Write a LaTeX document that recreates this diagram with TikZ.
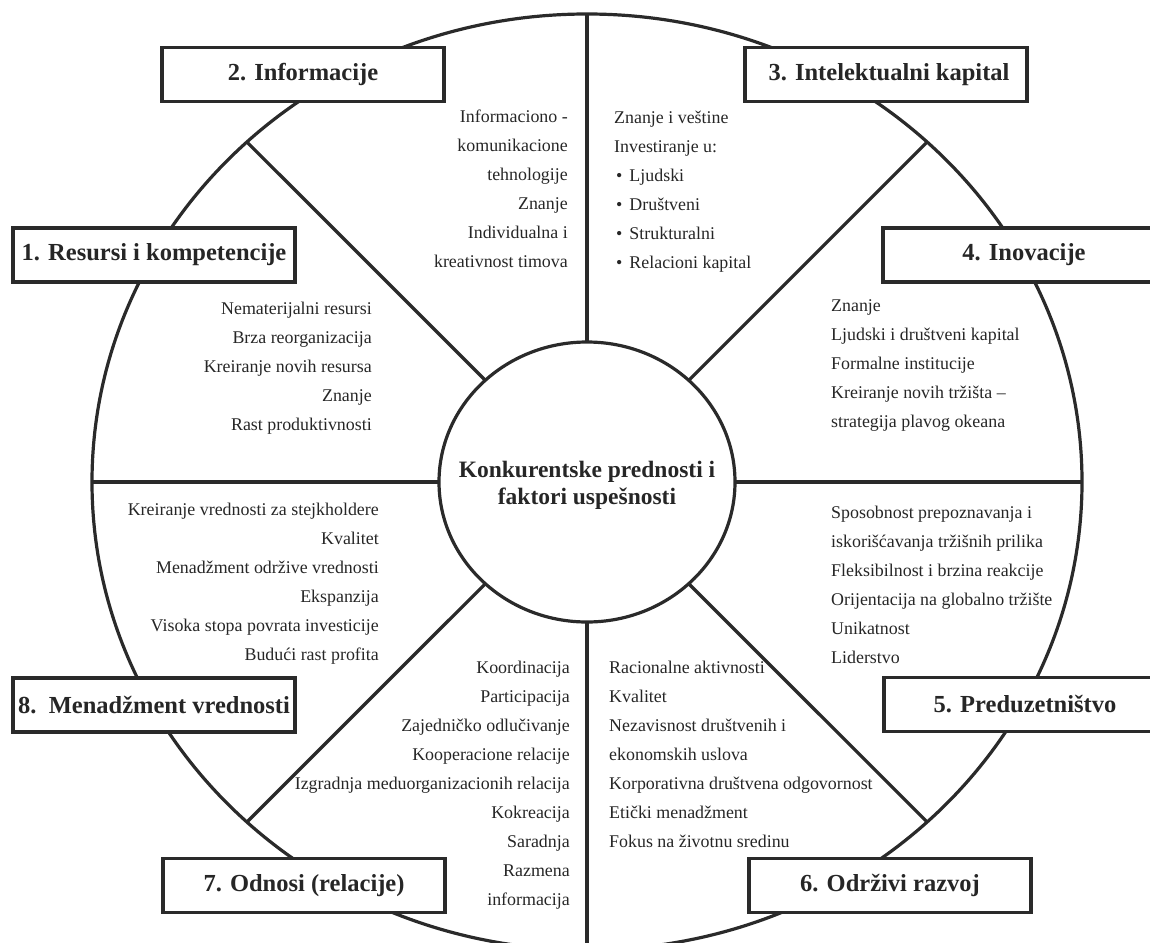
\documentclass[tikz,border=0pt]{standalone}
\usepackage{fontspec}
\setmainfont{Liberation Serif}
\usetikzlibrary{shapes.geometric}
\definecolor{ink}{HTML}{262626}
\definecolor{rimcol}{HTML}{2A2A2A}
\newcommand{\listbullet}{\hspace{2pt}•\hspace{7pt}}

\begin{document}
\begin{tikzpicture}[x=1pt,y=-1pt,
  rim/.style={draw=rimcol, line width=3.2pt, ellipse, inner sep=0pt, outer sep=0pt},
  spoke/.style={draw=rimcol, line width=3.2pt},
  titlebox/.style={draw=rimcol, line width=3.4pt, fill=white, minimum width=282pt,
    minimum height=54pt, inner sep=0pt, text=ink,
    font=\fontsize{24.5}{28}\selectfont\bfseries},
  % multi-line lists are placed by the baseline of their last line
  listr/.style={align=right, anchor=base east, inner sep=0pt, text=ink,
    font=\fontsize{17.9}{29}\selectfont},
  listl/.style={align=left, anchor=base west, inner sep=0pt, text=ink,
    font=\fontsize{17.9}{29}\selectfont},
  hub/.style={align=center, inner sep=0pt, text=ink,
    font=\fontsize{23.5}{27}\selectfont\bfseries}
]
\useasboundingbox (0,0) rectangle (1150,942);

% wheel: outer rim and hub
\node[rim, minimum width=990pt, minimum height=936pt] (outer) at (587,482) {};
\node[rim, minimum width=296pt, minimum height=280pt] (inner) at (587,482) {};

% eight spokes dividing the wheel
\foreach \a in {0,45,90,135,180,225,270,315}
  \draw[spoke] (inner.\a) -- (outer.\a);

\node[hub] (hubtext) at (587,485) {Konkurentske prednosti i\\faktori uspešnosti};

% factor lists, one per sector
\node[listr] (l2) at (568,267) {Informaciono -\\komunikacione\\tehnologije\\Znanje\\Individualna i\\kreativnost timova};
\node[listl] (l3) at (614,268) {Znanje i veštine\\Investiranje u:\\\listbullet Ljudski\\\listbullet Društveni\\\listbullet Strukturalni\\\listbullet Relacioni kapital};
\node[listr] (l1) at (372,430) {Nematerijalni resursi\\Brza reorganizacija\\Kreiranje novih resursa\\Znanje\\Rast produktivnosti};
\node[listl] (l4) at (831,427) {Znanje\\Ljudski i društveni kapital\\Formalne institucije\\Kreiranje novih tržišta –\\strategija plavog okeana};
\node[listr] (l8) at (379,660) {Kreiranje vrednosti za stejkholdere\\Kvalitet\\Menadžment održive vrednosti\\Ekspanzija\\Visoka stopa povrata investicije\\Budući rast profita};
\node[listl] (l5) at (831,663) {Sposobnost prepoznavanja i\\iskorišćavanja tržišnih prilika\\Fleksibilnost i brzina reakcije\\Orijentacija na globalno tržište\\Unikatnost\\Liderstvo};
\node[listr] (l7) at (570,905) {Koordinacija\\Participacija\\Zajedničko odlučivanje\\Kooperacione relacije\\Izgradnja meduorganizacionih relacija\\Kokreacija\\Saradnja\\Razmena\\informacija};
\node[listl] (l6) at (609,847) {Racionalne aktivnosti\\Kvalitet\\Nezavisnost društvenih i\\ekonomskih uslova\\Korporativna društvena odgovornost\\Etički menadžment\\Fokus na životnu sredinu};

% factor titles
\node[titlebox] (b1) at (154,255) {1. Resursi i kompetencije};
\node[titlebox] (b2) at (303,74.5) {2. Informacije};
\node[titlebox] (b3) at (886,74.5) {\hspace{6pt}3. Intelektualni kapital};
\node[titlebox] (b4) at (1024,255) {4. Inovacije};
\node[titlebox] (b5) at (1025,704.5) {5. Preduzetništvo};
\node[titlebox] (b6) at (890,885.5) {6. Održivi razvoj};
\node[titlebox] (b7) at (304,885.5) {7. Odnosi (relacije)};
\node[titlebox] (b8) at (154,705) {8.\ \ Menadžment vrednosti};
\end{tikzpicture}
\end{document}
